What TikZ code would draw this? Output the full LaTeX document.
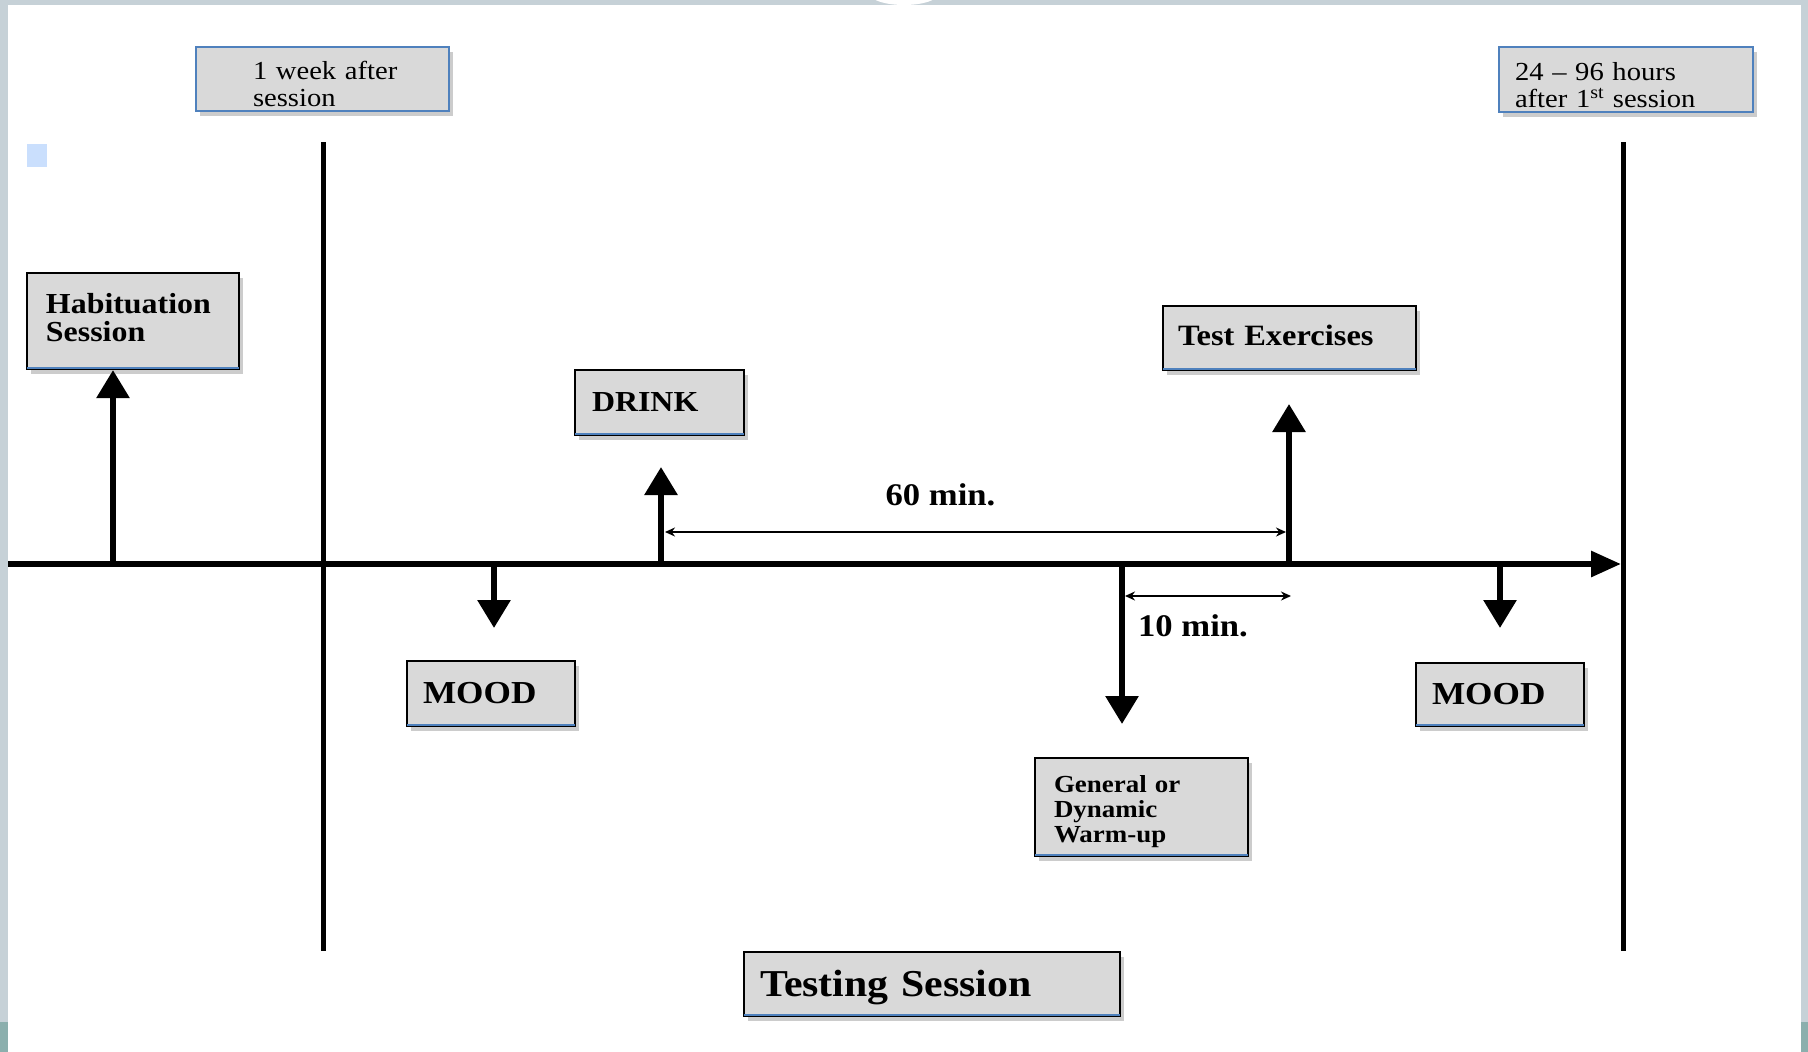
\documentclass[tikz,border=0pt]{standalone}
\usepackage{fontspec}
\setmainfont{Liberation Serif}[FakeStretch=1.1]
\usetikzlibrary{arrows.meta,shadows}
\definecolor{boxgray}{HTML}{D9D9D9}
\definecolor{boxblue}{HTML}{4F81BD}
\definecolor{framegray}{HTML}{C6D1D7}
\definecolor{frameteal}{HTML}{8BAFAD}
\definecolor{lightsq}{HTML}{CADFFD}
\tikzset{
  tbox/.style n args={3}{rectangle, fill=boxgray, inner sep=0pt,
    text width=#1, minimum width=#1, minimum height=#2, align=left,
    execute at begin node={\leftskip=#3\relax},
    drop shadow={shadow xshift=4pt, shadow yshift=-5pt, opacity=0.4}},
  topbox/.style={draw=boxblue, line width=2pt},
  lowbox/.style={draw=black, line width=2.2pt},
  bigarrow/.style={line width=6pt, -{Triangle[width=32pt,length=28pt]}},
  axisline/.style={line width=6pt, -{Triangle[width=25pt,length=30pt]}},
  sepline/.style={line width=5pt},
  dimarrow/.style={line width=1.6pt, {Stealth[length=10pt,width=9pt]}-{Stealth[length=10pt,width=9pt]}},
  bluebase/.style={boxblue, line width=1.8pt},
  dimlabel/.style={font=\bfseries\fontsize{31.5}{31.5}\selectfont, inner sep=0pt},
}
\begin{document}
\begin{tikzpicture}[x=1pt, y=-1pt]
\useasboundingbox (0,0) rectangle (1808,1052);
\clip (0,0) rectangle (1808,1052);
% frame
\fill[framegray] (0,0) rectangle (1808,1052);
\fill[white] (8,5) rectangle (1801,1052);
\fill[frameteal] (0,1022) rectangle (8,1052);
\fill[frameteal] (1801,1022) rectangle (1808,1052);
\fill[white] (904,-6) ellipse [x radius=34, y radius=11];
\fill[lightsq] (27,144) rectangle (47,167);

% axis coordinates
\coordinate (a0) at (8,564);
\coordinate (a1) at (1621,564);
\coordinate (v1t) at (323,142);
\coordinate (v1b) at (323,951);
\coordinate (v2t) at (1623,142);
\coordinate (v2b) at (1623,951);
\coordinate (h0) at (113,564);
\coordinate (d0) at (661,564);
\coordinate (dtip) at (661,467);
\coordinate (t0) at (1289,564);
\coordinate (ttip) at (1289,404);
\coordinate (m10) at (494,564);
\coordinate (m1tip) at (494,628);
\coordinate (w0) at (1122,564);
\coordinate (wtip) at (1122,724);
\coordinate (m20) at (1500,564);
\coordinate (m2tip) at (1500,628);
\coordinate (s60a) at (665,532);
\coordinate (s60b) at (1286,532);
\coordinate (s10a) at (1125,596);
\coordinate (s10b) at (1291,596);

% boxes
\node[tbox={253pt}{64pt}{57pt}, topbox, text height=29pt, font=\fontsize{26}{27}\selectfont] (wk) at (322.5,79) {1 week after\\session};
\node[tbox={254pt}{65pt}{16pt}, topbox, text height=29pt, font=\fontsize{26}{27}\selectfont] (hrs) at (1626,79.5) {24 -- 96 hours\\after 1\textsuperscript{st} session};
\node[tbox={212pt}{96pt}{19pt}, lowbox, text depth=35.5pt, font=\bfseries\fontsize{29}{28.5}\selectfont] (hab) at (133,321) {Habituation\\Session};
\node[tbox={169pt}{65pt}{17pt}, lowbox, font=\bfseries\fontsize{29}{29}\selectfont] (drink) at (659.5,402.5) {DRINK};
\node[tbox={253pt}{64pt}{15pt}, lowbox, text depth=6pt, font=\bfseries\fontsize{29.5}{29.5}\selectfont] (test) at (1289.5,338) {Test Exercises};
\node[tbox={168pt}{65pt}{16pt}, lowbox, font=\bfseries\fontsize{32}{32}\selectfont] (mood1) at (491,693.5) {MOOD};
\node[tbox={168pt}{63pt}{16pt}, lowbox, font=\bfseries\fontsize{32}{32}\selectfont] (mood2) at (1500,694.5) {MOOD};
\node[tbox={213pt}{98pt}{19pt}, lowbox, text height=27pt, font=\bfseries\fontsize{24.5}{25}\selectfont] (warm) at (1141.5,807) {General or\\Dynamic\\Warm-up};
\node[tbox={376pt}{64pt}{16pt}, lowbox, text height=33pt, font=\bfseries\fontsize{38}{38}\selectfont] (ts) at (932,984) {Testing Session};
\foreach \n in {hab,drink,test,mood1,mood2,warm,ts}
  \draw[bluebase] ([yshift=2.5pt,xshift=1.5pt]\n.south west) -- ([yshift=2.5pt,xshift=-1.5pt]\n.south east);

% lines
\draw[sepline] (v1t) -- (v1b);
\draw[sepline] (v2t) -- (v2b);
\draw[axisline] (a0) -- (a1);

% arrows
\draw[bigarrow] (h0) -- (h0 |- hab.south);
\draw[bigarrow] (d0) -- (dtip);
\draw[bigarrow] (t0) -- (ttip);
\draw[bigarrow] (m10) -- (m1tip);
\draw[bigarrow] (w0) -- (wtip);
\draw[bigarrow] (m20) -- (m2tip);

% dimension arrows
\draw[dimarrow] (s60a) -- node[above=25.5pt, xshift=-35pt, dimlabel] (l60) {60 min.} (s60b);
\draw[dimarrow] (s10a) -- node[below=17.5pt, xshift=-15pt, dimlabel] (l10) {10 min.} (s10b);
\end{tikzpicture}
\end{document}
